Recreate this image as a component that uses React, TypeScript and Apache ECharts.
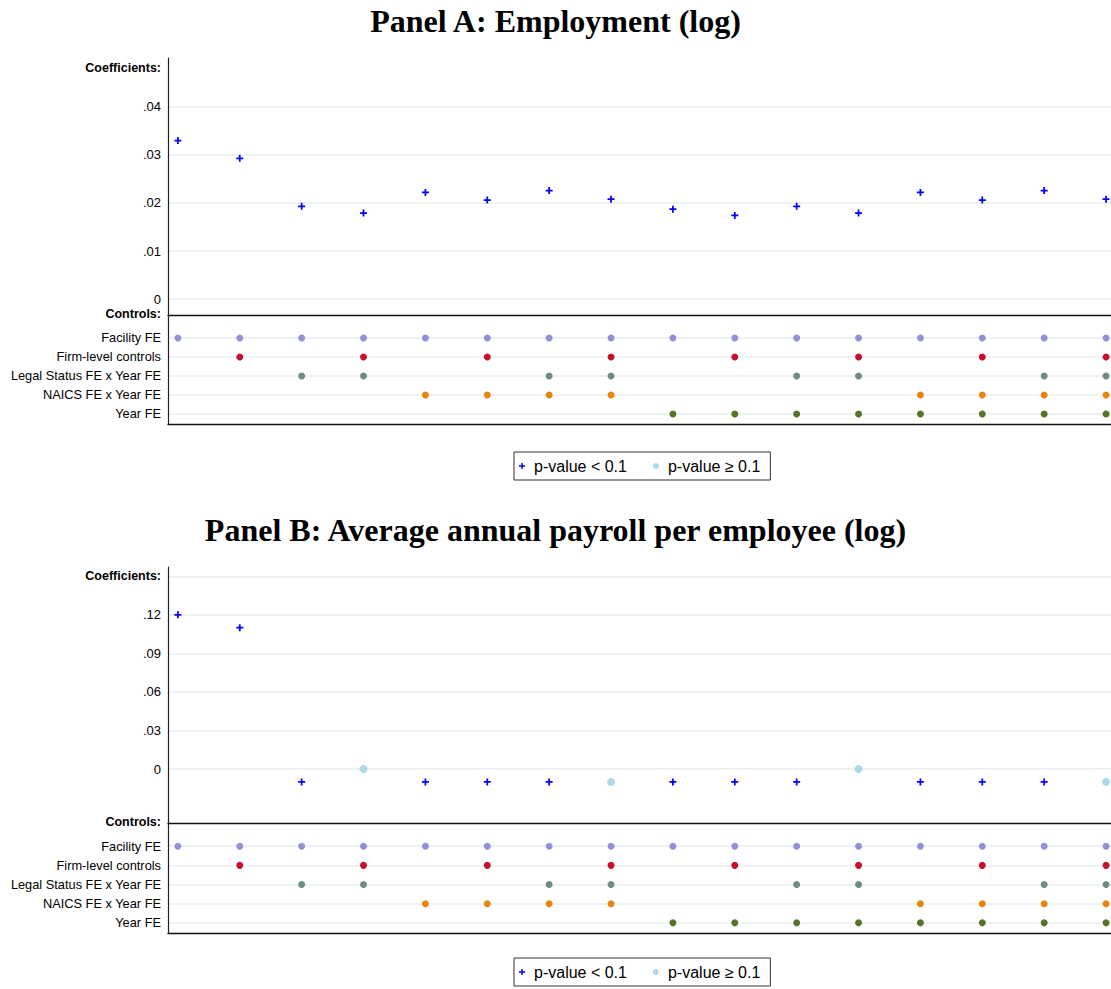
import React, { useEffect, useRef } from "react";
import * as echarts from "echarts";

const models = [1, 2, 3, 4, 5, 6, 7, 8, 9, 10, 11, 12, 13, 14, 15, 16];

const coefA = [0.033, 0.0293, 0.0193, 0.0179, 0.0222, 0.0206, 0.0226, 0.0208, 0.0187, 0.0174, 0.0193, 0.0179, 0.0222, 0.0206, 0.0226, 0.0208];
const sigA = [1, 1, 1, 1, 1, 1, 1, 1, 1, 1, 1, 1, 1, 1, 1, 1];

const coefB = [0.12, 0.11, -0.01, 0.0, -0.01, -0.01, -0.01, -0.01, -0.01, -0.01, -0.01, 0.0, -0.01, -0.01, -0.01, -0.01];
const sigB = [1, 1, 1, 0, 1, 1, 1, 0, 1, 1, 1, 0, 1, 1, 1, 0];

const controlNames = ["Facility FE", "Firm-level controls", "Legal Status FE x Year FE", "NAICS FE x Year FE", "Year FE"];
const facilityFE = [1, 1, 1, 1, 1, 1, 1, 1, 1, 1, 1, 1, 1, 1, 1, 1];
const firmControls = [0, 1, 0, 1, 0, 1, 0, 1, 0, 1, 0, 1, 0, 1, 0, 1];
const legalStatusFE = [0, 0, 1, 1, 0, 0, 1, 1, 0, 0, 1, 1, 0, 0, 1, 1];
const naicsFE = [0, 0, 0, 0, 1, 1, 1, 1, 0, 0, 0, 0, 1, 1, 1, 1];
const yearFE = [0, 0, 0, 0, 0, 0, 0, 0, 1, 1, 1, 1, 1, 1, 1, 1];
const controlColors = ["#9590d6", "#c8102e", "#6f8c82", "#e8850c", "#557428"];

const ticksA = [0, 0.01, 0.02, 0.03, 0.04];
const ticksB = [0, 0.03, 0.06, 0.09, 0.12];
const headerLineB = 0.15;

const titleA = "Panel A: Employment (log)";
const titleB = "Panel B: Average annual payroll per employee (log)";
const legendSig = "p-value < 0.1";
const legendInsig = "p-value \u2265 0.1";

const PLUS = "path://M3,0h2v3h3v2h-3v3h-2v-3h-3v-2h3z";
const FONT = "'Liberation Sans', Arial, sans-serif";
const GRIDCOLOR = "#e7eef1";

function fmtCoef(v: number) {
  if (Math.abs(v) < 1e-9) return "0";
  return v.toFixed(2).replace(/^0/, "").replace(/^-0/, "-");
}

export default function App() {
  const ref = useRef<HTMLDivElement>(null);
  useEffect(() => {
    if (!ref.current) return;
    const chart = echarts.init(ref.current, undefined, { renderer: "svg" });

    const controls = [facilityFE, firmControls, legalStatusFE, naicsFE, yearFE];

    const panels = [
      { top: 58, sep: 315, bottom: 424, min: -0.00333, max: 0.0502, ticks: ticksA, grid: ticksA, coef: coefA, sig: sigA, legendTop: 452, titleTop: 5, title: titleA, coefLabelY: 68 },
      { top: 567, sep: 823, bottom: 933, min: -0.042, max: 0.1572, ticks: ticksB, grid: [...ticksB, headerLineB], coef: coefB, sig: sigB, legendTop: 958, titleTop: 514, title: titleB, coefLabelY: 576 },
    ];

    const grids: any[] = [];
    const xAxes: any[] = [];
    const yAxes: any[] = [];
    const series: any[] = [];
    const graphics: any[] = [];
    const legends: any[] = [];
    const titles: any[] = [];

    panels.forEach((p, pi) => {
      const gCoef = pi * 2;
      const gCtrl = pi * 2 + 1;
      grids.push({ left: 168, right: 0, top: p.top, height: p.sep - p.top });
      grids.push({ left: 168, right: 0, top: p.sep, height: p.bottom - p.sep });
      [gCoef, gCtrl].forEach((gi) => {
        xAxes.push({
          type: "value", gridIndex: gi, min: 0.84, max: 16.08,
          axisLabel: { show: false }, axisTick: { show: false }, splitLine: { show: false },
          axisLine: { show: true, onZero: false, lineStyle: { color: "#111", width: 1.3 } },
        });
      });
      yAxes.push({
        type: "value", gridIndex: gCoef, min: p.min, max: p.max,
        axisLine: { show: true, onZero: false, lineStyle: { color: "#222", width: 1.2 } },
        axisTick: { show: false, customValues: p.grid },
        axisLabel: { customValues: p.ticks, formatter: (v: number) => fmtCoef(v), color: "#000", fontSize: 13, fontFamily: FONT, margin: 7 },
        splitLine: { show: true, lineStyle: { color: GRIDCOLOR, width: 1.5 } },
      });
      yAxes.push({
        type: "value", gridIndex: gCtrl, inverse: true, min: -0.21, max: 5.53,
        axisLine: { show: true, onZero: false, lineStyle: { color: "#222", width: 1.2 } },
        axisTick: { show: false, customValues: [1, 2, 3, 4, 5] },
        axisLabel: { customValues: [1, 2, 3, 4, 5], formatter: (v: number) => controlNames[Math.round(v) - 1] || "", color: "#000", fontSize: 12.8, fontFamily: FONT, margin: 7 },
        splitLine: { show: true, lineStyle: { color: GRIDCOLOR, width: 1.5 } },
      });

      series.push({
        type: "scatter", name: legendSig, xAxisIndex: gCoef, yAxisIndex: gCoef,
        symbol: PLUS, symbolSize: 7, itemStyle: { color: "#0000ff", opacity: 1 },
        data: models.map((m, i) => (p.sig[i] ? [m, p.coef[i]] : null)).filter(Boolean),
        z: 3,
      });
      series.push({
        type: "scatter", name: legendInsig, xAxisIndex: gCoef, yAxisIndex: gCoef,
        symbol: "circle", symbolSize: 8, itemStyle: { color: "#add8e6", opacity: 1 },
        data: models.map((m, i) => (!p.sig[i] ? [m, p.coef[i]] : null)).filter(Boolean),
        z: 3,
      });
      controls.forEach((flags, ci) => {
        series.push({
          type: "scatter", name: controlNames[ci], xAxisIndex: gCtrl, yAxisIndex: gCtrl,
          symbol: "circle", symbolSize: 7, itemStyle: { color: controlColors[ci], opacity: 1 },
          data: models.map((m, i) => (flags[i] ? [m, ci + 1] : null)).filter(Boolean),
          z: 3,
        });
      });

      graphics.push({
        type: "text", x: 161, y: p.coefLabelY,
        style: { text: "Coefficients:", font: `bold 12.5px ${FONT}`, fill: "#000", textAlign: "right", textVerticalAlign: "middle" },
      });
      graphics.push({
        type: "text", x: 161, y: p.sep - 1,
        style: { text: "Controls:", font: `bold 12.5px ${FONT}`, fill: "#000", textAlign: "right", textVerticalAlign: "middle" },
      });

      legends.push({
        left: 514, top: p.legendTop, orient: "horizontal",
        padding: [6, 10, 6, 5], itemGap: 26, itemWidth: 14, itemHeight: 6,
        borderColor: "#333", borderWidth: 1, borderRadius: 0,
        selectedMode: false,
        textStyle: { fontSize: 16, fontFamily: FONT, color: "#000" },
        data: [
          { name: legendSig, icon: PLUS, itemStyle: { color: "#0000ff" } },
          { name: legendInsig, icon: "circle", itemStyle: { color: "#add8e6" } },
        ],
      });

      titles.push({
        text: p.title, left: "center", top: p.titleTop, padding: 0,
        textStyle: { fontSize: 32, fontWeight: "bold", fontFamily: "'Liberation Serif', 'Times New Roman', serif", color: "#000" },
      });
    });

    chart.setOption({
      animation: false,
      backgroundColor: "#fff",
      title: titles,
      grid: grids,
      xAxis: xAxes,
      yAxis: yAxes,
      legend: legends,
      graphic: graphics,
      series,
    });
    return () => chart.dispose();
  }, []);
  return <div ref={ref} style={{ position: "fixed", left: 0, top: 0, width: 1111, height: 989 }} />;
}
